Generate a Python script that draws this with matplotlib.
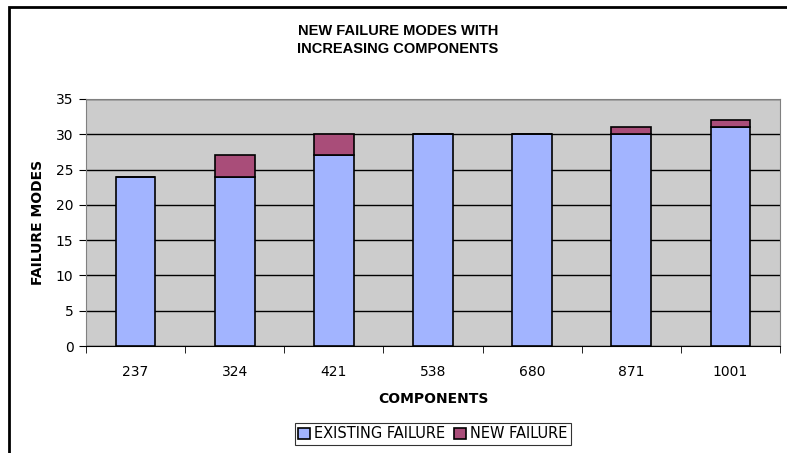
import matplotlib.pyplot as plt
import numpy as np
from matplotlib.patches import Rectangle

components = ['237', '324', '421', '538', '680', '871', '1001']
existing_failure = [24, 24, 27, 30, 30, 30, 31]
new_failure = [0, 3, 3, 0, 0, 1, 1]

blue = '#a2b4ff'
plum = '#a94d79'
gray = '#cccccc'

fig = plt.figure(figsize=(7.87, 4.53), dpi=100)
ax = fig.add_axes([86 / 787, 1 - 346 / 453, 694 / 787, 247 / 453])
ax.set_facecolor(gray)

x = np.arange(len(components))
ax.bar(x, existing_failure, width=0.4, color=blue, edgecolor='black', linewidth=1.2,
       label='EXISTING FAILURE', zorder=3)
ax.bar(x, new_failure, width=0.4, bottom=existing_failure, color=plum, edgecolor='black',
       linewidth=1.2, label='NEW FAILURE', zorder=3)

ax.set_xlim(-0.5, len(components) - 0.5)
ax.set_ylim(0, 35)
ax.set_yticks(range(0, 36, 5))
ax.set_xticks(x)
ax.set_xticklabels(components)
ax.set_xticks(np.arange(-0.5, len(components)), minor=True)
ax.tick_params(axis='x', which='major', length=0, pad=14, labelsize=10)
ax.tick_params(axis='x', which='minor', length=5, direction='out', color='black')
ax.tick_params(axis='y', length=5, direction='out', labelsize=10, pad=4)
ax.grid(axis='y', color='black', linewidth=1, zorder=1)
ax.set_axisbelow(True)

for side in ['top', 'right', 'left']:
    ax.spines[side].set_color('#808080')
ax.spines['bottom'].set_color('black')

ax.set_xlabel('COMPONENTS', fontweight='bold', fontsize=10, labelpad=9)
ax.set_ylabel('FAILURE MODES', fontweight='bold', fontsize=10, labelpad=8)

fig.text(398 / 787, 1 - 40 / 453, 'NEW FAILURE MODES WITH\nINCREASING COMPONENTS',
         ha='center', va='center', fontsize=10.5, fontweight='bold',
         family=['Liberation Sans', 'DejaVu Sans'], linespacing=1.45)

leg = fig.legend(loc='center', bbox_to_anchor=(433 / 787, 1 - 434 / 453), ncol=2,
                 frameon=True, fancybox=False, edgecolor='black', fontsize=10.5,
                 handlelength=0.8, handleheight=0.8, handletextpad=0.3,
                 columnspacing=0.6, borderpad=0.25, borderaxespad=0)
leg.get_frame().set_linewidth(0.8)

# outer chart frame (cut off at the right and bottom)
fig.patches.append(Rectangle((9 / 787, -0.1), 1.2, 1 - 7 / 453 + 0.1, transform=fig.transFigure,
                             fill=False, edgecolor='black', linewidth=2))

fig.savefig('out.png', dpi=100)
